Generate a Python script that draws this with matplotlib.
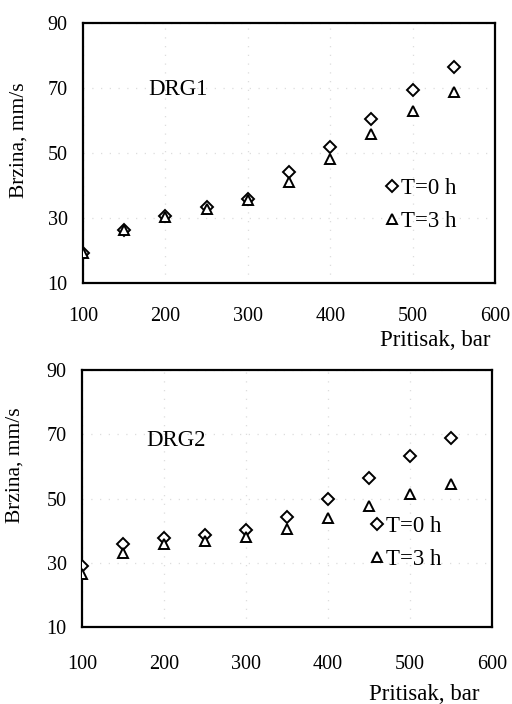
import matplotlib
matplotlib.use("Agg")
import matplotlib.pyplot as plt

plt.rcParams['font.family'] = ['Liberation Serif', 'DejaVu Serif']

pressure = [100, 150, 200, 250, 300, 350, 400, 450, 500, 550]

drg1_t0 = [19.2, 26.4, 30.5, 33.3, 35.9, 44.3, 51.9, 60.4, 69.3, 76.5]
drg1_t3 = [19.2, 26.4, 30.3, 32.8, 35.4, 41.2, 48.1, 55.7, 62.9, 68.8]

drg2_t0 = [28.9, 35.7, 37.8, 38.6, 40.3, 44.3, 50.0, 56.4, 63.3, 68.9]
drg2_t3 = [26.6, 32.9, 35.8, 36.8, 38.1, 40.6, 43.8, 47.7, 51.4, 54.5]

xticks = [100, 200, 300, 400, 500, 600]
yticks = [10, 30, 50, 70, 90]
series_labels = ["T=0 h", "T=3 h"]
panel_names = ["DRG1", "DRG2"]
xlabel = "Pritisak, bar"
ylabel = "Brzina, mm/s"

fig = plt.figure(figsize=(5.12, 7.04), dpi=100)
ax1 = fig.add_axes([0.1621, 0.598, 0.8047, 0.3693])
ax2 = fig.add_axes([0.160, 0.1094, 0.8008, 0.365])

panels = [
    (ax1, drg1_t0, drg1_t3, panel_names[0], (215, 69.5), (0.735, 0.30), (0.988, -0.18), (-0.131, 0.55), 17),
    (ax2, drg2_t0, drg2_t3, panel_names[1], (215, 68.2), (0.705, 0.327), (0.97, -0.222), (-0.141, 0.63), 20),
]

for ax, t0, t3, name, npos, legpos, xlpos, ylpos, xpad in panels:
    ax.plot(pressure, t0, linestyle='none', marker='D', ms=6, mfc='white',
            mec='black', mew=1.4, label=series_labels[0], zorder=3)
    ax.plot(pressure, t3, linestyle='none', marker='^', ms=7.5, mfc='white',
            mec='black', mew=1.4, label=series_labels[1], zorder=3)
    ax.set_xlim(100, 600)
    ax.set_ylim(10, 90)
    ax.set_xticks(xticks)
    ax.set_yticks(yticks)
    ax.tick_params(axis='both', length=0, labelsize=14.5)
    ax.tick_params(axis='x', pad=xpad)
    ax.tick_params(axis='y', pad=11)
    for s in ax.spines.values():
        s.set_linewidth(1.6)
    ax.grid(True, color='#dddddd', linestyle=(0, (1, 6)), linewidth=0.9)
    ax.text(npos[0], npos[1], name, fontsize=16.5, ha='center', va='center')
    ax.legend(loc='center left', bbox_to_anchor=legpos, frameon=False,
              fontsize=16.5, handlelength=0.5, handletextpad=0.15,
              labelspacing=0.5, borderpad=0, borderaxespad=0)
    ax.set_xlabel(xlabel, fontsize=16.5, loc='right')
    ax.xaxis.set_label_coords(*xlpos)
    ax.set_ylabel(ylabel, fontsize=15.5)
    ax.yaxis.set_label_coords(*ylpos)

fig.savefig("out.png", dpi=100)
